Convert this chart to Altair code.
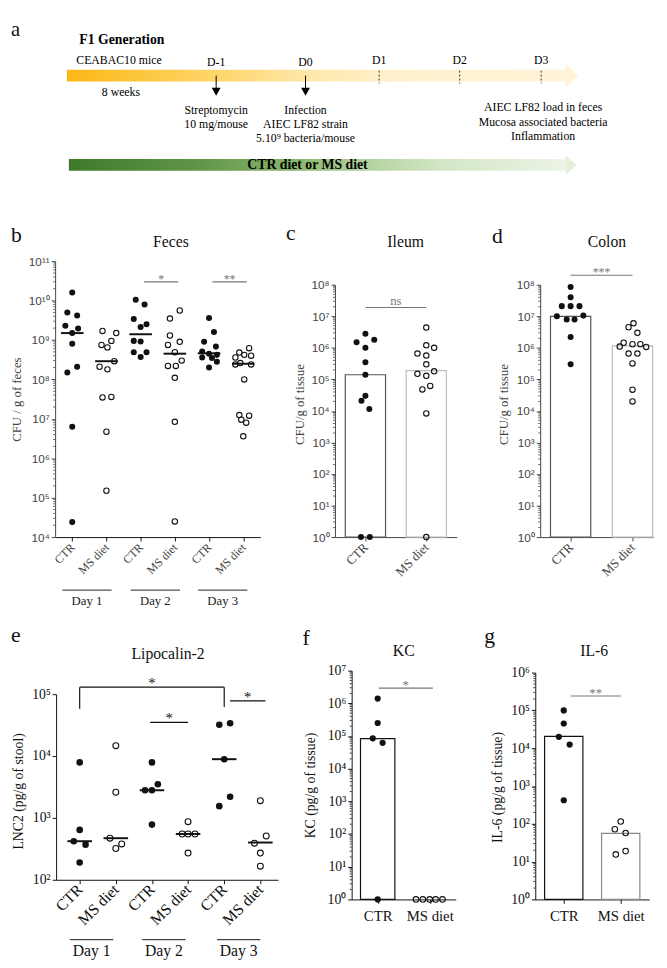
import altair as alt
import pandas as pd

SERIF = "Liberation Serif"
SANS = "Liberation Sans"
INK = "#111111"
AXG = "#444444"

# ---------------- panel a : timeline schematic ----------------
a_day_labels = ["D-1", "D0", "D1", "D2", "D3"]
a_day_x = [212, 303, 378, 460, 543]
a_day_y = [49, 49, 47, 47, 47]
a_event_x = [212, 303]          # arrows (streptomycin, infection)
a_dash_x = [378, 460, 543]      # sampling days
a_notes = ["CEABAC10 mice", "8 weeks", "Streptomycin", "10 mg/mouse", "Infection",
           "AIEC LF82 strain", "5.10⁹ bacteria/mouse", "AIEC LF82 load in feces",
           "Mucosa associated bacteria", "Inflammation"]
a_notes_x = [113, 115, 212, 212, 303, 303, 303, 545, 545, 545]
a_notes_y = [47, 80, 98, 112, 98, 112, 127, 95, 110, 125]
a_bold = ["F1 Generation", "CTR diet or MS diet"]
a_bold_x = [116, 305]
a_bold_y = [27, 154]

# ---------------- panel b : Feces (CFU / g) ----------------
b_cats = ["CTR", "MS diet", "CTR", "MS diet", "CTR", "MS diet"]
b_days = ["Day 1", "Day 2", "Day 3"]
b_ctr_d1 = [1.6e10, 5e9, 4.2e9, 2.3e9, 1.95e9, 1.5e9, 8e8, 2.1e8, 1.5e8, 6.3e6, 2.4e4]
b_ms_d1 = [1.7e9, 1.5e9, 9.5e8, 7.5e8, 6.5e8, 2.9e8, 2.1e8, 1.8e8, 3.5e7, 3.6e7, 4.7e6, 1.5e5]
b_ctr_d2 = [1.05e10, 8e9, 3.4e9, 2.5e9, 2.15e9, 9.5e8, 9.2e8, 4.9e8, 4.9e8, 3.7e8]
b_ms_d2 = [5.6e9, 3.5e9, 1.3e9, 9e8, 7.5e8, 4.9e8, 3e8, 2.2e8, 2.2e8, 1.1e8, 8.4e6, 2.5e4]
b_ctr_d3 = [3.6e9, 1.6e9, 9e8, 6.8e8, 5.1e8, 4.5e8, 4.2e8, 3.6e8, 3.5e8, 2.8e8, 2e8]
b_ms_d3 = [6.2e8, 4.8e8, 4.2e8, 4e8, 3.6e8, 2.6e8, 2.4e8, 2.4e8, 1e8, 1.25e7, 1.2e7, 9.5e6, 8e6, 3.6e6]
b_medians = [1.5e9, 2.9e8, 1.4e9, 4.5e8, 4.6e8, 2.5e8]
b_sig = ["*", "**"]
b_sig_pairs = [(2, 3), (4, 5)]
b_sig_y = [3.0e10, 3.0e10]
# horizontal scatter of the dots (px from group centre)
b_ctr_d1_jit = [0, -5, 5, -7, 6, 0, 0, 5, -5, 0, 0]
b_ms_d1_jit = [-4, 10, 5, -5, 1, 8, -7, 1, -4, 5, 0, 0]
b_ctr_d2_jit = [-5, 4, -7, 6, 0, -7, 0, -7, 6, 0]
b_ms_d2_jit = [5, -5, -5, 5, -7, 0, 7, -7, 1, 0, 0, 0]
b_ctr_d3_jit = [0, 5, -5, 7, -7, 0, 8, -7, 3, 8, 0]
b_ms_d3_jit = [6, -4, 1, 8, -8, -3, 8, -8, 1, -4, 6, -2, 3, 0]

# ---------------- panel c : Ileum ----------------
c_cats = ["CTR", "MS diet"]
c_ctr = [2.8e6, 1.8e6, 1.5e6, 1.0e6, 3.5e5, 1.4e5, 3.0e4, 2.1e4, 1.15e4, 1, 1]
c_ms = [4.4e6, 1.2e6, 1.0e6, 6.6e5, 5.7e5, 3.0e5, 1.8e5, 1.5e5, 1.3e5, 6.2e4, 4.8e4, 8.3e3, 1]
c_bar = [1.4e5, 1.9e5]
c_sig_y = 1.9e7
c_ctr_jit = [0, 9, -9, 0, 0, 0, 0, -4, 4, -4.5, 4.5]
c_ms_jit = [0, 0, 8, -9, 0, 0, 8, -9, 0, 4, -4, 0, 0]

# ---------------- panel d : Colon ----------------
d_ctr = [8.5e7, 4e7, 2.1e7, 2.1e7, 2.1e7, 1.0e7, 1.05e7, 7.9e6, 7.9e6, 2.2e6, 3.0e5]
d_ms = [6e6, 4.5e6, 3e6, 1.45e6, 1.1e6, 1.3e6, 1.3e6, 1.07e6, 6.6e5, 6.6e5, 3.2e5, 4.7e4, 2e4]
d_bar = [1.0e7, 1.15e6]
d_sig_y = 2.0e8
d_ctr_jit = [0, 0, -9, 0, 9, -14, 13, -4, 4, 0, 0]
d_ms_jit = [1, -4, 5, -9, -13, 0, 8, 14, -4, 5, 0, 0, 0]

# ---------------- panel e : Lipocalin-2 ----------------
e_ctr_d1 = [7.9e3, 6.4e2, 4.2e2, 3.7e2, 1.9e2]
e_ms_d1 = [1.47e4, 2.6e3, 4.7e2, 3.8e2, 3.2e2]
e_ctr_d2 = [7.9e3, 3.5e3, 2.8e3, 2.8e3, 7.8e2]
e_ms_d2 = [8.7e2, 5.5e2, 5.5e2, 5.5e2, 2.7e2]
e_ctr_d3 = [3.2e4, 3.4e4, 8.9e3, 1.55e3, 2.2e3]
e_ms_d3 = [1.9e3, 5.1e2, 3.9e2, 2.7e2, 1.66e2]
e_medians = [4.2e2, 4.7e2, 2.8e3, 5.5e2, 8.9e3, 4.0e2]
e_bracket_y = [1.3e5, 5.8e4, 6.2e4]     # top, left leg end, right leg end
e_sig_y = [3.5e4, 7.8e4]
e_ctr_d1_jit = [0, 0, -6, 6, 0]
e_ms_d1_jit = [0, 0, -6, 6, 0]
e_ctr_d2_jit = [0, 6, -7, 0, 0]
e_ms_d2_jit = [0, -6, 0, 7, 0]
e_ctr_d3_jit = [-5, 6, 0, -5, 6]
e_ms_d3_jit = [0, 6, -6, 0, 0]

# ---------------- panel f : KC ----------------
f_ctr = [1.4e6, 2.5e5, 8.5e4, 6.2e4, 1]
f_ms = [1, 1, 1, 1, 1]
f_bar = [8.3e4, 1]
f_sig_y = 2.9e6
f_ctr_jit = [0, 0, -5, 5, 0]
f_ms_jit = [-14, -7, 0, 6, 13]

# ---------------- panel g : IL-6 ----------------
g_ctr = [1.0e5, 4.5e4, 2.0e4, 1.25e4, 4.2e2]
g_ms = [115, 72, 57, 15.5, 19]
g_bar = [2.05e4, 56]
g_sig_y = 2.4e5
g_ctr_jit = [0, 0, -5, 6, 0]
g_ms_jit = [0, -6, 5, -5, 5]

# =====================================================================
SUP = str.maketrans("0123456789", "⁰¹²³⁴⁵⁶⁷⁸⁹")
ONE = pd.DataFrame({"k": [0]})


def sup10(k):
    return "10" + str(k).translate(SUP)


def mkY(lo, hi, height, top, font, size, color, dcolor):
    labels = "[" + ",".join("'%s'" % sup10(k) for k in range(0, hi + 1)) + "]"
    axis = alt.Axis(values=[10.0 ** k for k in range(lo, hi + 1)],
                    labelExpr=labels + "[round(log(datum.value)/LN10)]",
                    title=None, grid=False, tickSize=4, tickColor=dcolor, domainColor=dcolor,
                    labelFont=font, labelFontSize=size, labelColor=color, labelPadding=2,
                    labelOverlap=False, labelFlush=False)
    sc = alt.Scale(type="log", domain=[10.0 ** lo, 10.0 ** hi], range=[height, top], nice=False)
    return lambda f: alt.Y(f, type="quantitative", scale=sc, axis=axis)


def mkX(dom, names, angled, size, color, dcolor, pad):
    expr = "[" + ",".join("'%s'" % n for n in names) + "][round(datum.value)]"
    kw = dict(values=list(range(len(names))), labelExpr=expr, title=None, grid=False,
              tickSize=4, tickColor=dcolor, domainColor=dcolor, labelFont=SERIF,
              labelFontSize=size, labelColor=color, labelPadding=pad,
              labelOverlap=False, labelFlush=False)
    if angled:
        kw.update(labelAngle=315, labelAlign="right", labelBaseline="middle")
    else:
        kw.update(labelAngle=0, labelAlign="center", labelBaseline="top")
    sc = alt.Scale(domain=dom, nice=False, zero=False)
    axis = alt.Axis(**kw)
    return lambda f: alt.X(f, type="quantitative", scale=sc, axis=axis)


def pts(groups, step):
    rows = []
    for idx, vals, jit, filled in groups:
        for v, j in zip(vals, jit):
            rows.append({"x": idx + j / step, "v": v, "filled": filled})
    return pd.DataFrame(rows)


def point_layers(df, X, Y, sf, so):
    out = []
    dff = df[df.filled]
    dfo = df[~df.filled]
    if len(dff):
        out.append(alt.Chart(dff).mark_circle(size=sf, color=INK, opacity=1).encode(x=X("x"), y=Y("v")))
    if len(dfo):
        out.append(alt.Chart(dfo).mark_point(size=so, color=INK, strokeWidth=1.1, filled=False,
                                             opacity=1).encode(x=X("x"), y=Y("v")))
    return out


def minor_layer(lo, hi, Y, color, length=2):
    d = pd.DataFrame({"v": [m * 10.0 ** k for k in range(lo, hi) for m in range(2, 10)]})
    return alt.Chart(d).mark_rule(color=color, strokeWidth=0.8).encode(
        y=Y("v"), x=alt.value(0), x2=alt.value(-length))


def label(text, x, y, size, color=INK, angle=0, align="center", baseline="middle",
          weight="normal", font=SERIF):
    return alt.Chart(ONE).mark_text(text=text, fontSize=size, font=font, color=color, angle=angle,
                                    align=align, baseline=baseline, fontWeight=weight).encode(
        x=alt.value(x), y=alt.value(y))


def sig(x0, x1, v, text, X, Y, color, size, dy, lw=1.2):
    d = pd.DataFrame({"x0": [x0], "x1": [x1], "v": [v], "xm": [(x0 + x1) / 2], "t": [text]})
    r = alt.Chart(d).mark_rule(color=color, strokeWidth=lw).encode(x=X("x0"), x2="x1", y=Y("v"))
    t = alt.Chart(d).mark_text(font=SERIF, fontSize=size, color=color, baseline="alphabetic",
                               dy=dy).encode(x=X("xm"), y=Y("v"), text="t:N")
    return [r, t]


def medians(vals, half, X, Y, w=2):
    d = pd.DataFrame({"x0": [i - half for i in range(len(vals))],
                      "x1": [i + half for i in range(len(vals))], "v": vals})
    return alt.Chart(d).mark_rule(color=INK, strokeWidth=w).encode(x=X("x0"), x2="x1", y=Y("v"))


def bars(vals, strokes, X, Y, half):
    d = pd.DataFrame({"x0": [i - half for i in range(len(vals))],
                      "x1": [i + half for i in range(len(vals))],
                      "v": vals, "base": [1.0] * len(vals), "s": strokes})
    d = d[d.v > 1]
    return alt.Chart(d).mark_rect(fill="white", strokeWidth=1.2).encode(
        x=X("x0"), x2="x1", y=Y("v"), y2="base", stroke=alt.Stroke("s:N", scale=None))


def days_layers(names, centers, half, X, yline, ylab, size, color):
    d = pd.DataFrame({"x0": [c - half for c in centers], "x1": [c + half for c in centers],
                      "xm": centers, "t": names})
    r = alt.Chart(d).mark_rule(color=color, strokeWidth=1).encode(x=X("x0"), x2="x1", y=alt.value(yline))
    t = alt.Chart(d).mark_text(font=SERIF, fontSize=size, color=color, baseline="middle").encode(
        x=X("xm"), y=alt.value(ylab), text="t:N")
    return [r, t]


def spacer(w, h):
    return alt.Chart(ONE).mark_point(opacity=0).encode(
        x=alt.X("k:Q", axis=None), y=alt.Y("k:Q", axis=None)).properties(width=w, height=h)


# ---------------- panel a ----------------
AXS = alt.Scale(domain=[3, 663], nice=False, zero=False)
AYS = alt.Scale(domain=[3, 116], nice=False, zero=False, reverse=True)


def ax(f):
    return alt.X(f, type="quantitative", scale=AXS, axis=None)


def ay(f):
    return alt.Y(f, type="quantitative", scale=AYS, axis=None)


yellow_grad = alt.Gradient(gradient="linear", x1=0, x2=1, y1=0, y2=0, stops=[
    alt.GradientStop(color="#FDB714", offset=0), alt.GradientStop(color="#FDD66B", offset=0.3),
    alt.GradientStop(color="#FEE9AE", offset=0.5), alt.GradientStop(color="#FFF0CC", offset=0.65),
    alt.GradientStop(color="#FFF3D8", offset=1)])
green_grad = alt.Gradient(gradient="linear", x1=0, x2=1, y1=0, y2=0, stops=[
    alt.GradientStop(color="#3F7A2B", offset=0), alt.GradientStop(color="#5E9445", offset=0.25),
    alt.GradientStop(color="#88B56B", offset=0.45), alt.GradientStop(color="#B3D29E", offset=0.6),
    alt.GradientStop(color="#D3E6C6", offset=0.75), alt.GradientStop(color="#ECF4E6", offset=1)])

bar_y = pd.DataFrame({"x": [60], "x2": [568], "y": [57], "y2": [69]})
bar_g = pd.DataFrame({"x": [62], "x2": [568], "y": [148], "y2": [160]})
heads = pd.DataFrame({"x": [568, 568], "y": [63, 154], "s": [529, 400], "c": ["#FFF2D6", "#E4EFDA"]})
ev = pd.DataFrame({"x": a_event_x, "y": [63] * 2, "y2": [77] * 2, "yh": [79.5] * 2})
dash = pd.DataFrame({"x": a_dash_x, "y": [58] * 3, "y2": [71] * 3})
dlab = pd.DataFrame({"x": a_day_x, "y": a_day_y, "t": a_day_labels})
notes = pd.DataFrame({"x": a_notes_x, "y": a_notes_y, "t": a_notes})
bold = pd.DataFrame({"x": a_bold_x, "y": a_bold_y, "t": a_bold})

panel_a = alt.layer(
    alt.Chart(bar_y).mark_rect(fill=yellow_grad).encode(x=ax("x"), x2="x2", y=ay("y"), y2="y2"),
    alt.Chart(bar_g).mark_rect(fill=green_grad).encode(x=ax("x"), x2="x2", y=ay("y"), y2="y2"),
    alt.Chart(heads).mark_point(shape="M0,-1L1.1,0L0,1Z", filled=True, strokeWidth=0, opacity=1).encode(
        x=ax("x"), y=ay("y"), size=alt.Size("s:Q", scale=None), fill=alt.Fill("c:N", scale=None)),
    alt.Chart(ev).mark_rule(color="black", strokeWidth=1).encode(x=ax("x"), y=ay("y"), y2="y2"),
    alt.Chart(ev).mark_point(shape="M-1,-0.9L1,-0.9L0,0.9Z", size=81, filled=True, color="black",
                             opacity=1).encode(x=ax("x"), y=ay("yh")),
    alt.Chart(dash).mark_rule(color="black", strokeWidth=0.8, strokeDash=[2, 2]).encode(
        x=ax("x"), y=ay("y"), y2="y2"),
    alt.Chart(dlab).mark_text(font=SERIF, fontSize=12, color="black").encode(x=ax("x"), y=ay("y"), text="t:N"),
    alt.Chart(notes).mark_text(font=SERIF, fontSize=12, color="black").encode(x=ax("x"), y=ay("y"), text="t:N"),
    alt.Chart(bold).mark_text(font=SERIF, fontSize=14, fontWeight="bold", color="black").encode(
        x=ax("x"), y=ay("y"), text="t:N"),
    label("a", 0, 3, 21, align="left", baseline="top"),
).properties(width=660, height=113)

# ---------------- panel b ----------------
BW, BH = 209, 281
bstep = BW / 6
bX = mkX([-0.5, 5.5], b_cats, True, 12, AXG, INK, 4)
bY = mkY(4, 11, BH, 0, SANS, 12, AXG, AXG)
b_df = pts([(0, b_ctr_d1, b_ctr_d1_jit, True), (1, b_ms_d1, b_ms_d1_jit, False),
            (2, b_ctr_d2, b_ctr_d2_jit, True), (3, b_ms_d2, b_ms_d2_jit, False),
            (4, b_ctr_d3, b_ctr_d3_jit, True), (5, b_ms_d3, b_ms_d3_jit, False)], bstep)
b_layers = [minor_layer(4, 11, bY, AXG)] + point_layers(b_df, bX, bY, 38, 30)
b_layers.append(medians(b_medians, 11.5 / bstep, bX, bY))
for (p0, p1), s, v in zip(b_sig_pairs, b_sig, b_sig_y):
    b_layers += sig(p0 + 0.1, p1 + 0.1, v, s, bX, bY, "#777777", 12, 1)
b_layers += days_layers(b_days, [0.43, 2.43, 4.4], 0.72, bX, 335, 346, 13, "#222222")
b_layers += [label("b", -45, -20, 22, align="left", baseline="alphabetic"),
             label("Feces", 118, -19, 16),
             label("CFU / g of feces", -38.5, 141, 13, color=AXG, angle=270)]
panel_b = alt.layer(*b_layers).properties(width=BW, height=BH)

# ---------------- panel c ----------------
CW, CH = 124, 281
cstep = CW / 2
cX = mkX([-0.5, 1.5], c_cats, True, 13, AXG, AXG, 4)
cY = mkY(0, 8, CH, 24, SANS, 12, AXG, AXG)
c_df = pts([(0, c_ctr, c_ctr_jit, True), (1, c_ms, c_ms_jit, False)], cstep)
c_layers = [bars(c_bar, ["#555555", "#BBBBBB"], cX, cY, 20.5 / cstep), minor_layer(0, 8, cY, AXG)]
c_layers += point_layers(c_df, cX, cY, 38, 30)
c_layers += sig(0, 1, c_sig_y, "ns", cX, cY, "#777777", 13, -3)
c_layers += [label("c", -50, -22, 22, align="left", baseline="alphabetic"),
             label("Ileum", 72, -19, 16),
             label("CFU/g of tissue", -36, 146, 13, color=AXG, angle=270)]
panel_c = alt.layer(*c_layers).properties(width=CW, height=CH)

# ---------------- panel d ----------------
DW, DH = 115, 281
dstep = 63
dX = mkX([-31 / 63, 1 + (DW - 94) / 63], c_cats, True, 13, AXG, AXG, 4)
dY = mkY(0, 8, DH, 24, SANS, 12, AXG, AXG)
d_df = pts([(0, d_ctr, d_ctr_jit, True), (1, d_ms, d_ms_jit, False)], dstep)
d_layers = [bars(d_bar, ["#555555", "#BBBBBB"], dX, dY, 20.5 / dstep), minor_layer(0, 8, dY, AXG)]
d_layers += point_layers(d_df, dX, dY, 38, 30)
d_layers += sig(0, 1, d_sig_y, "***", dX, dY, "#777777", 12, 1)
d_layers += [label("d", -49, -19, 22, align="left", baseline="alphabetic"),
             label("Colon", 68, -19, 16),
             label("CFU/g of tissue", -37, 146, 13, color=AXG, angle=270)]
panel_d = alt.layer(*d_layers).properties(width=DW, height=DH)

# ---------------- panel e ----------------
EW, EH = 226, 213
estep = 36.8
eX = mkX([-24 / estep, 5 + 18 / estep], b_cats, True, 16, INK, INK, 3)
eY = mkY(2, 5, EH, 24, SERIF, 14, INK, INK)
e_df = pts([(0, e_ctr_d1, e_ctr_d1_jit, True), (1, e_ms_d1, e_ms_d1_jit, False),
            (2, e_ctr_d2, e_ctr_d2_jit, True), (3, e_ms_d2, e_ms_d2_jit, False),
            (4, e_ctr_d3, e_ctr_d3_jit, True), (5, e_ms_d3, e_ms_d3_jit, False)], estep)
e_layers = point_layers(e_df, eX, eY, 45, 36)
e_layers.append(medians(e_medians, 12.5 / estep, eX, eY))
br = pd.DataFrame({"x0": [0, 0, 4], "x1": [4, 0, 4],
                   "v": [e_bracket_y[0]] * 3, "v2": [e_bracket_y[0], e_bracket_y[1], e_bracket_y[2]]})
e_layers.append(alt.Chart(br).mark_rule(color=INK, strokeWidth=1.2).encode(
    x=eX("x0"), x2="x1", y=eY("v"), y2="v2"))
e_layers.append(alt.Chart(pd.DataFrame({"xm": [2], "v": [e_bracket_y[0]], "t": ["*"]})).mark_text(
    font=SERIF, fontSize=15, color=INK, baseline="alphabetic", dy=1).encode(
    x=eX("xm"), y=eY("v"), text="t:N"))
e_layers += sig(1.95, 3.0, e_sig_y[0], "*", eX, eY, INK, 15, 1)
e_layers += sig(4.16, 5.14, e_sig_y[1], "*", eX, eY, INK, 15, 1)
e_layers += days_layers(b_days, [0.33, 2.33, 4.4], 0.6, eX, 274, 286, 16, INK)
e_layers += [label("e", -46, -29, 22, align="left", baseline="alphabetic"),
             label("Lipocalin-2", 114, -17, 16),
             label("LNC2 (pg/g of stool)", -38, 123, 14, angle=270)]
panel_e = alt.layer(*e_layers).properties(width=EW, height=EH)

# ---------------- panel f ----------------
FW, FH = 106, 233
fstep = FW / 2
fX = mkX([-0.5, 1.5], c_cats, False, 15, INK, INK, 5)
fY = mkY(0, 7, FH, 0, SERIF, 14, INK, INK)
f_df = pts([(0, f_ctr, f_ctr_jit, True), (1, f_ms, f_ms_jit, False)], fstep)
f_layers = [bars(f_bar, ["#111111", "#888888"], fX, fY, 17.5 / fstep), minor_layer(0, 7, fY, INK)]
f_layers += point_layers(f_df, fX, fY, 40, 32)
f_layers += sig(0.02, 1.06, f_sig_y, "*", fX, fY, "#777777", 13, 1)
f_layers += [label("f", -50, -26, 22, align="left", baseline="alphabetic"),
             label("KC", 53, -20, 16),
             label("KC (pg/g of tissue)", -41, 117, 14, angle=270)]
panel_f = alt.layer(*f_layers).properties(width=FW, height=FH)

# ---------------- panel g ----------------
GW, GH = 116, 233
gstep = GW / 2
gX = mkX([-0.5, 1.5], c_cats, False, 15, INK, INK, 5)
gY = mkY(0, 6, GH, 2, SERIF, 14, INK, INK)
g_df = pts([(0, g_ctr, g_ctr_jit, True), (1, g_ms, g_ms_jit, False)], gstep)
g_layers = [bars(g_bar, ["#111111", "#888888"], gX, gY, 19.5 / gstep), minor_layer(0, 6, gY, INK)]
g_layers += point_layers(g_df, gX, gY, 40, 32)
g_layers += sig(0.12, 1.0, g_sig_y, "**", gX, gY, "#777777", 13, 1)
g_layers += [label("g", -52, -28, 22, align="left", baseline="alphabetic"),
             label("IL-6", 60, -20, 16),
             label("IL-6 (pg/g of tissue)", -38, 119, 14, angle=270)]
panel_g = alt.layer(*g_layers).properties(width=GW, height=GH)

row_b = alt.hconcat(spacer(45, BH), panel_b, spacer(76, BH), panel_c, spacer(85, BH), panel_d,
                    spacing=0, bounds="flush")
row_c = alt.hconcat(spacer(46, FH), panel_e, spacer(75, FH), panel_f, spacer(81, FH), panel_g,
                    spacing=0, bounds="flush")

# nested rows count as zero height in a flush layout -> explicit vertical spacer
GAP = 136
chart = alt.vconcat(panel_a, row_b, spacer(1, BH - GAP), row_c, spacing=GAP, bounds="flush").properties(
    padding=0, background="white"
).configure_view(stroke=None).configure_text(font=SERIF)

chart.save("out.html", embed_options={"renderer": "svg", "actions": False})
